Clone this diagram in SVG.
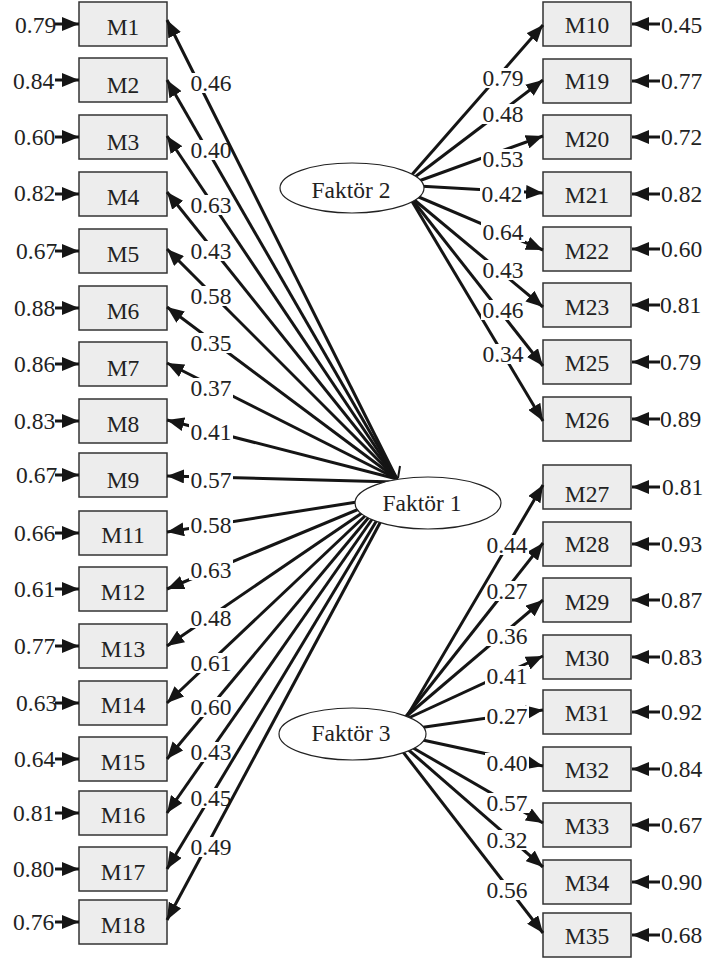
<svg xmlns="http://www.w3.org/2000/svg" width="705" height="960" viewBox="0 0 705 960">
<defs>
<marker id="ah" markerUnits="userSpaceOnUse" markerWidth="17" markerHeight="14" viewBox="0 0 17 14" refX="17" refY="7" orient="auto"><path d="M0,0 L17,7 L0,14 z" fill="#151515"/></marker>
<style>
.box{fill:#ededed;stroke:#333;stroke-width:1.5}
.t{font-family:"Liberation Serif","Times New Roman",serif;font-size:23.5px;fill:#222}
.c{text-anchor:middle}
.ln{stroke:#151515;stroke-width:3;fill:none;marker-end:url(#ah)}
.lb{fill:#fff}
.ell{fill:#fff;stroke:#222;stroke-width:1.2}
</style>
</defs>
<rect width="705" height="960" fill="#fff"/>
<g id="M1"><rect class="box" x="79" y="2" width="88" height="44"/><text class="t c" x="123" y="35">M1</text></g>
<g id="M2"><rect class="box" x="79" y="58" width="88" height="44"/><text class="t c" x="123" y="93">M2</text></g>
<g id="M3"><rect class="box" x="79" y="115" width="88" height="44"/><text class="t c" x="123" y="150">M3</text></g>
<g id="M4"><rect class="box" x="79" y="172" width="88" height="44"/><text class="t c" x="123" y="205">M4</text></g>
<g id="M5"><rect class="box" x="79" y="229" width="88" height="44"/><text class="t c" x="123" y="262">M5</text></g>
<g id="M6"><rect class="box" x="79" y="286" width="88" height="44"/><text class="t c" x="123" y="319">M6</text></g>
<g id="M7"><rect class="box" x="79" y="342" width="88" height="44"/><text class="t c" x="123" y="376">M7</text></g>
<g id="M8"><rect class="box" x="79" y="399" width="88" height="44"/><text class="t c" x="123" y="432">M8</text></g>
<g id="M9"><rect class="box" x="79" y="453" width="88" height="44"/><text class="t c" x="123" y="488">M9</text></g>
<g id="M11"><rect class="box" x="79" y="511" width="88" height="44"/><text class="t c" x="123" y="543">M11</text></g>
<g id="M12"><rect class="box" x="79" y="567" width="88" height="44"/><text class="t c" x="123" y="600">M12</text></g>
<g id="M13"><rect class="box" x="79" y="624" width="88" height="44"/><text class="t c" x="123" y="657">M13</text></g>
<g id="M14"><rect class="box" x="79" y="681" width="88" height="44"/><text class="t c" x="123" y="713">M14</text></g>
<g id="M15"><rect class="box" x="79" y="737" width="88" height="44"/><text class="t c" x="123" y="770">M15</text></g>
<g id="M16"><rect class="box" x="79" y="791" width="88" height="44"/><text class="t c" x="123" y="823">M16</text></g>
<g id="M17"><rect class="box" x="79" y="847" width="88" height="44"/><text class="t c" x="123" y="880">M17</text></g>
<g id="M18"><rect class="box" x="79" y="900" width="88" height="44"/><text class="t c" x="123" y="933">M18</text></g>
<g id="M10"><rect class="box" x="543" y="2" width="88" height="44"/><text class="t c" x="587" y="33">M10</text></g>
<g id="M19"><rect class="box" x="543" y="59" width="88" height="44"/><text class="t c" x="587" y="89">M19</text></g>
<g id="M20"><rect class="box" x="543" y="115" width="88" height="44"/><text class="t c" x="587" y="147">M20</text></g>
<g id="M21"><rect class="box" x="543" y="172" width="88" height="44"/><text class="t c" x="587" y="203">M21</text></g>
<g id="M22"><rect class="box" x="543" y="227" width="88" height="44"/><text class="t c" x="587" y="259">M22</text></g>
<g id="M23"><rect class="box" x="543" y="283" width="88" height="44"/><text class="t c" x="587" y="315">M23</text></g>
<g id="M25"><rect class="box" x="543" y="340" width="88" height="44"/><text class="t c" x="587" y="371">M25</text></g>
<g id="M26"><rect class="box" x="543" y="397" width="88" height="44"/><text class="t c" x="587" y="428">M26</text></g>
<g id="M27"><rect class="box" x="543" y="465" width="88" height="44"/><text class="t c" x="587" y="502">M27</text></g>
<g id="M28"><rect class="box" x="543" y="522" width="88" height="44"/><text class="t c" x="587" y="552">M28</text></g>
<g id="M29"><rect class="box" x="543" y="578" width="88" height="44"/><text class="t c" x="587" y="610">M29</text></g>
<g id="M30"><rect class="box" x="543" y="635" width="88" height="44"/><text class="t c" x="587" y="666">M30</text></g>
<g id="M31"><rect class="box" x="543" y="690" width="88" height="44"/><text class="t c" x="587" y="721">M31</text></g>
<g id="M32"><rect class="box" x="543" y="747" width="88" height="44"/><text class="t c" x="587" y="778">M32</text></g>
<g id="M33"><rect class="box" x="543" y="803" width="88" height="44"/><text class="t c" x="587" y="834">M33</text></g>
<g id="M34"><rect class="box" x="543" y="860" width="88" height="44"/><text class="t c" x="587" y="891">M34</text></g>
<g id="M35"><rect class="box" x="543" y="913" width="88" height="44"/><text class="t c" x="587" y="944">M35</text></g>
<g id="connectors">
<g id="residuals-left">
<line class="ln" x1="55" y1="24" x2="79" y2="24"/><text class="t" x="15" y="33">0.79</text>
<line class="ln" x1="55" y1="80" x2="79" y2="80"/><text class="t" x="13" y="89">0.84</text>
<line class="ln" x1="55" y1="137" x2="79" y2="137"/><text class="t" x="14" y="145">0.60</text>
<line class="ln" x1="55" y1="194" x2="79" y2="194"/><text class="t" x="14" y="201">0.82</text>
<line class="ln" x1="55" y1="251" x2="79" y2="251"/><text class="t" x="16" y="259">0.67</text>
<line class="ln" x1="55" y1="308" x2="79" y2="308"/><text class="t" x="14" y="316">0.88</text>
<line class="ln" x1="55" y1="364" x2="79" y2="364"/><text class="t" x="14" y="372">0.86</text>
<line class="ln" x1="55" y1="421" x2="79" y2="421"/><text class="t" x="14" y="429">0.83</text>
<line class="ln" x1="55" y1="475" x2="79" y2="475"/><text class="t" x="16" y="483">0.67</text>
<line class="ln" x1="55" y1="533" x2="79" y2="533"/><text class="t" x="14" y="541">0.66</text>
<line class="ln" x1="55" y1="589" x2="79" y2="589"/><text class="t" x="14" y="597">0.61</text>
<line class="ln" x1="55" y1="646" x2="79" y2="646"/><text class="t" x="14" y="654">0.77</text>
<line class="ln" x1="55" y1="703" x2="79" y2="703"/><text class="t" x="16" y="711">0.63</text>
<line class="ln" x1="55" y1="759" x2="79" y2="759"/><text class="t" x="14" y="767">0.64</text>
<line class="ln" x1="55" y1="813" x2="79" y2="813"/><text class="t" x="13" y="821">0.81</text>
<line class="ln" x1="55" y1="869" x2="79" y2="869"/><text class="t" x="13" y="877">0.80</text>
<line class="ln" x1="55" y1="922" x2="79" y2="922"/><text class="t" x="13" y="930">0.76</text>
</g>
<g id="residuals-right">
<line class="ln" x1="660" y1="24" x2="632" y2="24"/><text class="t" x="661" y="33">0.45</text>
<line class="ln" x1="660" y1="81" x2="632" y2="81"/><text class="t" x="661" y="89">0.77</text>
<line class="ln" x1="660" y1="137" x2="632" y2="137"/><text class="t" x="661" y="145">0.72</text>
<line class="ln" x1="660" y1="194" x2="632" y2="194"/><text class="t" x="661" y="202">0.82</text>
<line class="ln" x1="660" y1="249" x2="632" y2="249"/><text class="t" x="661" y="257">0.60</text>
<line class="ln" x1="660" y1="305" x2="632" y2="305"/><text class="t" x="660" y="313">0.81</text>
<line class="ln" x1="660" y1="362" x2="632" y2="362"/><text class="t" x="660" y="370">0.79</text>
<line class="ln" x1="660" y1="419" x2="632" y2="419"/><text class="t" x="660" y="427">0.89</text>
<line class="ln" x1="660" y1="487" x2="632" y2="487"/><text class="t" x="662" y="495">0.81</text>
<line class="ln" x1="660" y1="544" x2="632" y2="544"/><text class="t" x="661" y="552">0.93</text>
<line class="ln" x1="660" y1="600" x2="632" y2="600"/><text class="t" x="661" y="608">0.87</text>
<line class="ln" x1="660" y1="657" x2="632" y2="657"/><text class="t" x="661" y="665">0.83</text>
<line class="ln" x1="660" y1="712" x2="632" y2="712"/><text class="t" x="661" y="720">0.92</text>
<line class="ln" x1="660" y1="769" x2="632" y2="769"/><text class="t" x="661" y="777">0.84</text>
<line class="ln" x1="660" y1="825" x2="632" y2="825"/><text class="t" x="661" y="833">0.67</text>
<line class="ln" x1="660" y1="882" x2="632" y2="882"/><text class="t" x="661" y="890">0.90</text>
<line class="ln" x1="660" y1="935" x2="632" y2="935"/><text class="t" x="661" y="943">0.68</text>
</g>
<g id="f1-upper">
<line class="ln" x1="395" y1="482" x2="167" y2="476"/><rect class="lb" x="189" y="470" width="44" height="20"/><text class="t c" x="211" y="488">0.57</text>
<line class="ln" x1="397" y1="479" x2="167" y2="420"/><rect class="lb" x="189" y="422" width="44" height="20"/><text class="t c" x="211" y="440">0.41</text>
<line class="ln" x1="397" y1="479" x2="167" y2="363"/><rect class="lb" x="189" y="378" width="44" height="20"/><text class="t c" x="211" y="396">0.37</text>
<line class="ln" x1="397" y1="479" x2="167" y2="307"/><rect class="lb" x="189" y="333" width="44" height="20"/><text class="t c" x="211" y="351">0.35</text>
<line class="ln" x1="397" y1="479" x2="167" y2="249"/><rect class="lb" x="189" y="286" width="44" height="20"/><text class="t c" x="211" y="304">0.58</text>
<line class="ln" x1="397" y1="479" x2="167" y2="192"/><rect class="lb" x="189" y="241" width="44" height="20"/><text class="t c" x="211" y="259">0.43</text>
<line class="ln" x1="397" y1="479" x2="167" y2="136"/><rect class="lb" x="189" y="195" width="44" height="20"/><text class="t c" x="211" y="213">0.63</text>
<line class="ln" x1="397" y1="479" x2="167" y2="80"/><rect class="lb" x="189" y="140" width="44" height="20"/><text class="t c" x="211" y="158">0.40</text>
<line class="ln" x1="397" y1="479" x2="167" y2="20"/><rect class="lb" x="189" y="73" width="44" height="20"/><text class="t c" x="211" y="91">0.46</text>
<line x1="400" y1="466" x2="398" y2="478" stroke="#151515" stroke-width="2"/>
</g>
<g id="f1-lower">
<line class="ln" x1="357" y1="502" x2="167" y2="532"/><rect class="lb" x="189" y="515" width="44" height="20"/><text class="t c" x="211" y="533">0.58</text>
<line class="ln" x1="359" y1="509" x2="167" y2="589"/><rect class="lb" x="189" y="560" width="44" height="20"/><text class="t c" x="211" y="578">0.63</text>
<line class="ln" x1="362" y1="513" x2="167" y2="646"/><rect class="lb" x="189" y="608" width="44" height="20"/><text class="t c" x="211" y="626">0.48</text>
<line class="ln" x1="366" y1="515" x2="167" y2="703"/><rect class="lb" x="189" y="653" width="44" height="20"/><text class="t c" x="211" y="671">0.61</text>
<line class="ln" x1="369" y1="517" x2="167" y2="759"/><rect class="lb" x="189" y="697" width="44" height="20"/><text class="t c" x="211" y="715">0.60</text>
<line class="ln" x1="373" y1="518" x2="167" y2="813"/><rect class="lb" x="189" y="742" width="44" height="20"/><text class="t c" x="211" y="760">0.43</text>
<line class="ln" x1="377" y1="520" x2="167" y2="869"/><rect class="lb" x="189" y="788" width="44" height="20"/><text class="t c" x="211" y="806">0.45</text>
<line class="ln" x1="381" y1="521" x2="167" y2="920"/><rect class="lb" x="189" y="837" width="44" height="20"/><text class="t c" x="211" y="855">0.49</text>
</g>
<g id="f2-lines">
<line class="ln" x1="410" y1="198" x2="543" y2="421"/><rect class="lb" x="481" y="344" width="44" height="20"/><text class="t c" x="503" y="362">0.34</text>
<line class="ln" x1="411" y1="198" x2="543" y2="366"/><rect class="lb" x="481" y="300" width="44" height="20"/><text class="t c" x="503" y="318">0.46</text>
<line class="ln" x1="412" y1="198" x2="543" y2="307"/><rect class="lb" x="481" y="260" width="44" height="20"/><text class="t c" x="503" y="278">0.43</text>
<line class="ln" x1="414" y1="195" x2="543" y2="250"/><rect class="lb" x="481" y="222" width="44" height="20"/><text class="t c" x="503" y="240">0.64</text>
<line class="ln" x1="418" y1="186" x2="543" y2="193"/><rect class="lb" x="480" y="184" width="44" height="20"/><text class="t c" x="502" y="202">0.42</text>
<line class="ln" x1="416" y1="182" x2="543" y2="136"/><rect class="lb" x="481" y="149" width="44" height="20"/><text class="t c" x="503" y="167">0.53</text>
<line class="ln" x1="411" y1="180" x2="543" y2="80"/><rect class="lb" x="481" y="104" width="44" height="20"/><text class="t c" x="503" y="122">0.48</text>
<line class="ln" x1="409" y1="178" x2="543" y2="25"/><rect class="lb" x="481" y="68" width="44" height="20"/><text class="t c" x="503" y="86">0.79</text>
</g>
<g id="f3-lines">
<line class="ln" x1="418" y1="728" x2="543" y2="710"/><rect class="lb" x="485" y="706" width="44" height="20"/><text class="t c" x="507" y="724">0.27</text>
<line class="ln" x1="402" y1="721" x2="543" y2="656"/><rect class="lb" x="485" y="666" width="44" height="20"/><text class="t c" x="507" y="684">0.41</text>
<line class="ln" x1="402" y1="720" x2="543" y2="600"/><rect class="lb" x="485" y="626" width="44" height="20"/><text class="t c" x="507" y="644">0.36</text>
<line class="ln" x1="404" y1="719" x2="543" y2="543"/><rect class="lb" x="485" y="581" width="44" height="20"/><text class="t c" x="507" y="599">0.27</text>
<line class="ln" x1="406" y1="718" x2="543" y2="485"/><rect class="lb" x="485" y="535" width="44" height="20"/><text class="t c" x="507" y="553">0.44</text>
<line class="ln" x1="418" y1="739" x2="543" y2="766"/><rect class="lb" x="485" y="753" width="44" height="20"/><text class="t c" x="507" y="771">0.40</text>
<line class="ln" x1="408" y1="745" x2="543" y2="823"/><rect class="lb" x="485" y="793" width="44" height="20"/><text class="t c" x="507" y="811">0.57</text>
<line class="ln" x1="404" y1="746" x2="543" y2="867"/><rect class="lb" x="485" y="830" width="44" height="20"/><text class="t c" x="507" y="848">0.32</text>
<line class="ln" x1="400" y1="748" x2="543" y2="933"/><rect class="lb" x="485" y="880" width="44" height="20"/><text class="t c" x="507" y="898">0.56</text>
</g>
</g>
<g id="Faktor1"><ellipse class="ell" cx="428" cy="503" rx="73" ry="26"/><text class="t c" x="422" y="511">Faktör 1</text></g>
<g id="Faktor2"><ellipse class="ell" cx="352" cy="188" rx="72" ry="25"/><text class="t c" x="351" y="198">Faktör 2</text></g>
<g id="Faktor3"><ellipse class="ell" cx="352.5" cy="734" rx="73.5" ry="26"/><text class="t c" x="351" y="741">Faktör 3</text></g>
</svg>
